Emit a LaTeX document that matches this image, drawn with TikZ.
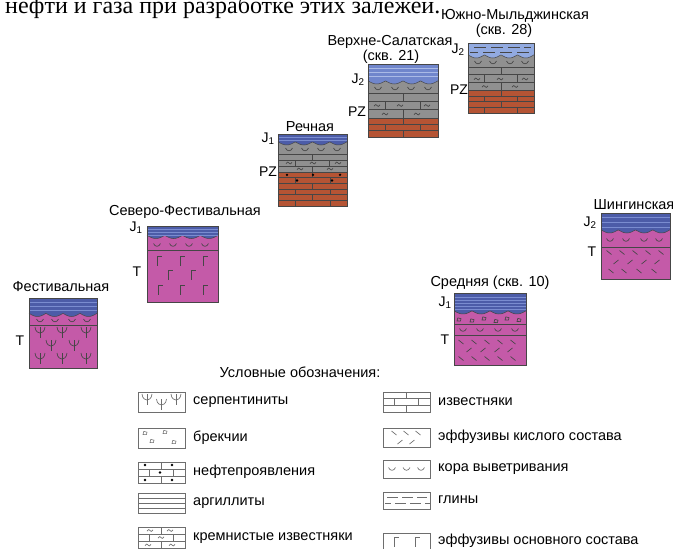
\documentclass[tikz,border=0pt]{standalone}
\usepackage{fontspec}
\setmainfont{Liberation Sans}
\newfontfamily\bodyserif{Liberation Serif}

\definecolor{jblue}{RGB}{76,92,168}
\definecolor{jbluelines}{RGB}{122,140,208}
\definecolor{jmid}{RGB}{112,134,204}
\definecolor{jmidlines}{RGB}{170,186,230}
\definecolor{jlight}{RGB}{146,170,224}
\definecolor{tpink}{RGB}{196,90,168}
\definecolor{pzgrey}{RGB}{144,144,144}
\definecolor{pzred}{RGB}{181,84,52}
\definecolor{edge}{RGB}{70,70,70}
\definecolor{legline}{RGB}{110,110,110}

% small lithology signs, (x,y) is the centre of the sign
\newcommand\kcup[2]{\draw (#1-3.5,#2-1.5) .. controls (#1-2,#2+2.2) and (#1+2,#2+2.2) .. (#1+3.5,#2-1.5);}
\newcommand\serpmark[2]{\draw (#1,#2-5) -- (#1,#2+6);
  \draw (#1-5,#2-5) .. controls (#1-4.5,#2) and (#1-1.5,#2+1) .. (#1,#2+1) .. controls (#1+1.5,#2+1) and (#1+4.5,#2) .. (#1+5,#2-5);}
\newcommand\gmark[2]{\draw (#1-2,#2+4.5) -- (#1-2,#2-4.5) -- (#1+3,#2-4.5);}
\newcommand\tmark[2]{\draw (#1-3,#2+0.6) .. controls (#1-1.8,#2-1.8) and (#1-0.6,#2-1) .. (#1,#2) .. controls (#1+0.6,#2+1) and (#1+1.8,#2+1.8) .. (#1+3,#2-0.6);}
\newcommand\bslmark[2]{\draw (#1-2.5,#2-2) -- (#1+2.5,#2+2);}
\newcommand\fslmark[2]{\draw (#1-2.5,#2+2) -- (#1+2.5,#2-2);}
\newcommand\brkmark[2]{\draw (#1-2,#2+1.5) -- (#1-1.2,#2-1.6) -- (#1+2,#2-0.8) -- (#1+1.4,#2+1.6) -- cycle;}
\newcommand\oildot[2]{\fill (#1,#2) circle[radius=1.3];}

% brick courses: x0, x1, y0, y1, number of courses
\newcommand\brickrows[5]{%
  \pgfmathsetmacro\bw{#2-#1}%
  \pgfmathsetmacro\bh{(#4-#3)/#5}%
  \foreach \k in {1,...,#5}{%
    \pgfmathsetmacro\ya{#3+(\k-1)*\bh}%
    \pgfmathsetmacro\yb{#3+\k*\bh}%
    \draw (#1,\ya) -- (#2,\ya);
    \ifodd\k
      \draw (#1+0.5*\bw,\ya) -- (#1+0.5*\bw,\yb);
    \else
      \draw (#1+0.25*\bw,\ya) -- (#1+0.25*\bw,\yb);
      \draw (#1+0.75*\bw,\ya) -- (#1+0.75*\bw,\yb);
    \fi}}

% Jurassic cap with an eroded base: x0, x1, top, base, fill, period
\newcommand\jcap[6]{%
  \fill[#5] (#1,#3) -- (#2,#3) -- plot[domain=#2:#1,samples=70] (\x,{#4-3.2*(1-abs(sin(180*(\x-#1)/#6)))}) -- cycle;
  \draw[edge,line width=0.5] plot[domain=#1:#2,samples=70] (\x,{#4-3.2*(1-abs(sin(180*(\x-#1)/#6)))});}

\tikzset{
  colname/.style={font=\fontsize{14.5}{16}\selectfont, inner sep=0pt},
  agelabel/.style={font=\fontsize{14}{16}\selectfont, inner sep=0pt},
  legtext/.style={font=\fontsize{14.5}{16}\selectfont, anchor=west, inner sep=0pt},
  legbox/.style={draw=legline, fill=white, line width=0.6},
  sign/.style={line width=0.65},
  layerline/.style={edge, line width=0.5},
  colframe/.style={draw=edge, line width=0.6}
}

\begin{document}
\begin{tikzpicture}[x=1pt,y=-1pt]
\useasboundingbox (0,0) rectangle (673,549);
\clip (0,0) rectangle (673,549);
\fill[white] (0,0) rectangle (673,549);

% running text of the page above
\node[anchor=base west, inner sep=0pt, font=\bodyserif\fontsize{24}{28}\selectfont] (pagetext) at (5,13) {нефти и газа при разработке этих залежей.};

% ---------------- Фестивальная ----------------
\fill[tpink] (29,310) rectangle (97,368);
\draw[layerline] (29,325) -- (97,325);
\begin{scope}[edge,sign]
  \foreach \xx in {40,55,72,87} {\kcup{\xx}{320.5}}
  \foreach \xx in {40,62,86} {\serpmark{\xx}{332}}
  \foreach \xx in {51,74} {\serpmark{\xx}{345}}
  \foreach \xx in {40,62,86} {\serpmark{\xx}{358}}
\end{scope}
\jcap{29}{97}{298}{316.5}{jblue}{17}
\foreach \yy in {302,306,310} {\draw[jbluelines,line width=0.8] (29,\yy) -- (97,\yy);}
\draw[colframe] (29,298) rectangle (97,368);
\node[colname] (festname) at (61,287) {Фестивальная};
\node[agelabel] (festT) at (20,341) {T};

% ---------------- Северо-Фестивальная ----------------
\fill[tpink] (147,232) rectangle (218,302);
\draw[layerline] (147,250) -- (218,250);
\begin{scope}[edge,sign]
  \foreach \xx in {157,173,189,205} {\kcup{\xx}{245}}
  \foreach \xx in {159,182,205} {\gmark{\xx}{261}}
  \foreach \xx in {170,193} {\gmark{\xx}{275}}
  \foreach \xx in {160,182,205} {\gmark{\xx}{290}}
\end{scope}
\jcap{147}{218}{226}{238.5}{jblue}{17.75}
\foreach \yy in {229,232,235} {\draw[jbluelines,line width=0.8] (147,\yy) -- (218,\yy);}
\draw[colframe] (147,226) rectangle (218,302);
\node[colname] (sfestname) at (185,212) {Северо-Фестивальная};
\node[agelabel] (sfestJ) at (136,228) {J\textsubscript{1}};
\node[agelabel] (sfestT) at (137,272) {T};

% ---------------- Речная ----------------
\fill[pzgrey] (278,140) rectangle (347,172);
\fill[pzred] (278,172) rectangle (347,206);
\draw[layerline] (278,154) -- (347,154);
\begin{scope}[edge,sign]
  \foreach \xx in {289,305,321,337} {\kcup{\xx}{149.5}}
  \brickrows{278}{347}{154}{172}{3}
  \foreach \xx in {289,313,338} {\tmark{\xx}{163}}
  \foreach \xx in {300,330} {\tmark{\xx}{169}}
\end{scope}
\begin{scope}[edge,line width=0.5]
  \brickrows{278}{347}{172}{206}{6}
\end{scope}
\begin{scope}[black]
  \foreach \xx in {287,313,340} {\oildot{\xx}{174.8}}
  \foreach \xx in {297,332} {\oildot{\xx}{180.5}}
\end{scope}
\jcap{278}{347}{134}{145}{jblue}{17.25}
\foreach \yy in {137,140} {\draw[jbluelines,line width=0.8] (278,\yy) -- (347,\yy);}
\draw[colframe] (278,134) rectangle (347,206);
\node[colname] (rechname) at (310,127) {Речная};
\node[agelabel] (rechJ) at (268,139) {J\textsubscript{1}};
\node[agelabel] (rechPZ) at (268,172) {PZ};

% ---------------- Верхне-Салатская ----------------
\fill[pzgrey] (368,80) rectangle (438,118);
\fill[pzred] (368,118) rectangle (438,137);
\draw[layerline] (368,93) -- (438,93);
\begin{scope}[edge,sign]
  \foreach \xx in {378,395,411,428} {\kcup{\xx}{88.5}}
  \brickrows{368}{438}{93}{118}{3}
  \foreach \xx in {377,400,427} {\tmark{\xx}{105.5}}
  \foreach \xx in {385,417} {\tmark{\xx}{114}}
\end{scope}
\begin{scope}[edge,line width=0.5]
  \brickrows{368}{438}{118}{137}{3}
\end{scope}
\jcap{368}{438}{64}{84}{jmid}{17.5}
\foreach \yy in {68,72,76} {\draw[jmidlines,line width=0.8] (368,\yy) -- (438,\yy);}
\draw[colframe] (368,64) rectangle (438,137);
\node[colname] (vsalname) at (390,42) {Верхне-Салатская};
\node[colname] (vsalwell) at (391,57) {(скв. 21)};
\node[agelabel] (vsalJ) at (358,80) {J\textsubscript{2}};
\node[agelabel] (vsalPZ) at (357,112) {PZ};

% ---------------- Южно-Мыльджинская ----------------
\fill[pzgrey] (468,54) rectangle (534,90);
\fill[pzred] (468,90) rectangle (534,113);
\draw[layerline] (468,67) -- (534,67);
\begin{scope}[edge,sign]
  \foreach \xx in {478,493,510,525} {\kcup{\xx}{62.5}}
  \brickrows{468}{534}{67}{90}{3}
  \foreach \xx in {477,500,525} {\tmark{\xx}{79}}
  \foreach \xx in {485,515} {\tmark{\xx}{86.5}}
\end{scope}
\begin{scope}[edge,line width=0.5]
  \brickrows{468}{534}{90}{113}{4}
\end{scope}
\jcap{468}{534}{43}{58}{jlight}{16.5}
\begin{scope}[edge,line width=0.7]
  \foreach \xa/\xb in {474/486,491/503,508/520,524/531} {\draw (\xa,47.5) -- (\xb,47.5);}
  \foreach \xa/\xb in {470/478,483/495,500/512,517/529} {\draw (\xa,52) -- (\xb,52);}
\end{scope}
\draw[colframe] (468,43) rectangle (534,113);
\node[colname] (ymname) at (515,16) {Южно-Мыльджинская};
\node[colname] (ymwell) at (504,31) {(скв. 28)};
\node[agelabel] (ymJ) at (458,50) {J\textsubscript{2}};
\node[agelabel] (ymPZ) at (459,90) {PZ};

% ---------------- Средняя ----------------
\fill[tpink] (454,308) rectangle (526,365);
\draw[layerline] (454,324) -- (526,324);
\draw[layerline] (454,335) -- (526,335);
\begin{scope}[edge,sign]
  \brkmark{459}{319.5}\brkmark{472}{320.5}\brkmark{484}{318.5}
  \brkmark{496}{321}\brkmark{507}{318.5}\brkmark{519}{320}
  \foreach \xx in {463,480,498,515} {\kcup{\xx}{330}}
  \foreach \xx in {461,474,487,500,513} {\bslmark{\xx}{342}}
  \foreach \xx in {469,483,497,510} {\fslmark{\xx}{350}}
  \foreach \xx in {461,474,487,500,513} {\bslmark{\xx}{358.5}}
\end{scope}
\jcap{454}{526}{293}{314}{jblue}{18}
\foreach \yy in {297,300,303,306,309} {\draw[jbluelines,line width=0.8] (454,\yy) -- (526,\yy);}
\draw[colframe] (454,293) rectangle (526,365);
\node[colname] (srname) at (490,283) {Средняя (скв. 10)};
\node[agelabel] (srJ) at (445,303) {J\textsubscript{1}};
\node[agelabel] (srT) at (445,340) {T};

% ---------------- Шингинская ----------------
\fill[tpink] (601,228) rectangle (670,279);
\draw[layerline] (601,247) -- (670,247);
\begin{scope}[edge,sign]
  \foreach \xx in {610,626,644,659} {\kcup{\xx}{240}}
  \foreach \xx in {609,622,635,648,661} {\bslmark{\xx}{252.5}}
  \foreach \xx in {616,630,644,657} {\fslmark{\xx}{262}}
  \foreach \xx in {611,624,639,654} {\bslmark{\xx}{271}}
\end{scope}
\jcap{601}{670}{213}{233}{jblue}{17.25}
\foreach \yy in {217,222,227} {\draw[jbluelines,line width=0.8] (601,\yy) -- (670,\yy);}
\draw[colframe] (601,213) rectangle (670,279);
\node[colname] (shname) at (634,205) {Шингинская};
\node[agelabel] (shJ) at (590,223) {J\textsubscript{2}};
\node[agelabel] (shT) at (592,252) {T};

% ---------------- legend ----------------
\node[colname] (legtitle) at (300,372) {Условные обозначения:};

% left column
\draw[legbox] (138,392) rectangle (185,412);
\begin{scope}[legline,sign]
  \serpmark{147}{399}\serpmark{161.5}{404}\serpmark{176}{399}
\end{scope}
\node[legtext] (lserp) at (193,402) {серпентиниты};

\draw[legbox] (138,428) rectangle (185,448);
\begin{scope}[legline,line width=0.55]
  \brkmark{145}{433}\brkmark{165}{432}\brkmark{152}{441}\brkmark{174}{442}
\end{scope}
\node[legtext] (lbrec) at (193,438) {брекчии};

\draw[legbox] (138,462) rectangle (185,483);
\begin{scope}[legline,line width=0.65]
  \brickrows{138}{185}{462}{483}{3}
\end{scope}
\begin{scope}[black]
  \oildot{145}{465}\oildot{172}{465}\oildot{160}{472.5}\oildot{145}{480}\oildot{172}{480}
\end{scope}
\node[legtext] (loil) at (193,472) {нефтепроявления};

\draw[legbox] (138,493) rectangle (185,513);
\foreach \yy in {498,503,508} {\draw[legline,line width=0.65] (138,\yy) -- (185,\yy);}
\node[legtext] (largil) at (193,503) {аргиллиты};

\draw[legbox] (138,527) rectangle (185,548);
\begin{scope}[legline,line width=0.65]
  \brickrows{138}{185}{527}{548}{3}
  \tmark{150}{530.5}\tmark{170}{530.5}\tmark{161}{537.5}\tmark{148}{545}\tmark{172}{545}
\end{scope}
\node[legtext] (lkrem) at (193,538) {кремнистые известняки};

% right column
\draw[legbox] (383,392) rectangle (430,412);
\begin{scope}[legline,line width=0.65]
  \brickrows{383}{430}{392}{412}{3}
\end{scope}
\node[legtext] (rizv) at (438,402) {известняки};

\draw[legbox] (383,428) rectangle (430,447);
\begin{scope}[legline,sign]
  \bslmark{394}{433}\bslmark{406}{433}\bslmark{418}{433}
  \fslmark{400}{442}\fslmark{412}{442}
\end{scope}
\node[legtext] (rkisl) at (438,437) {эффузивы кислого состава};

\draw[legbox] (383,460) rectangle (430,478);
\begin{scope}[legline,sign]
  \kcup{392}{469}\kcup{406.5}{469}\kcup{421}{469}
\end{scope}
\node[legtext] (rkora) at (438,469) {кора выветривания};

\draw[legbox] (383,492) rectangle (430,509);
\begin{scope}[legline,line width=0.65]
  \foreach \xa/\xb in {387/398,402/413,417/427} {\draw (\xa,497) -- (\xb,497);}
  \foreach \xa/\xb in {385/391,395/406,410/421,425/430} {\draw (\xa,503.5) -- (\xb,503.5);}
\end{scope}
\node[legtext] (rglin) at (438,500) {глины};

\draw[legbox] (383,533) rectangle (430,551);
\begin{scope}[legline,sign]
  \gmark{396}{542}\gmark{417}{542}
\end{scope}
\node[legtext] (rosn) at (438,541) {эффузивы основного состава};
\end{tikzpicture}
\end{document}
